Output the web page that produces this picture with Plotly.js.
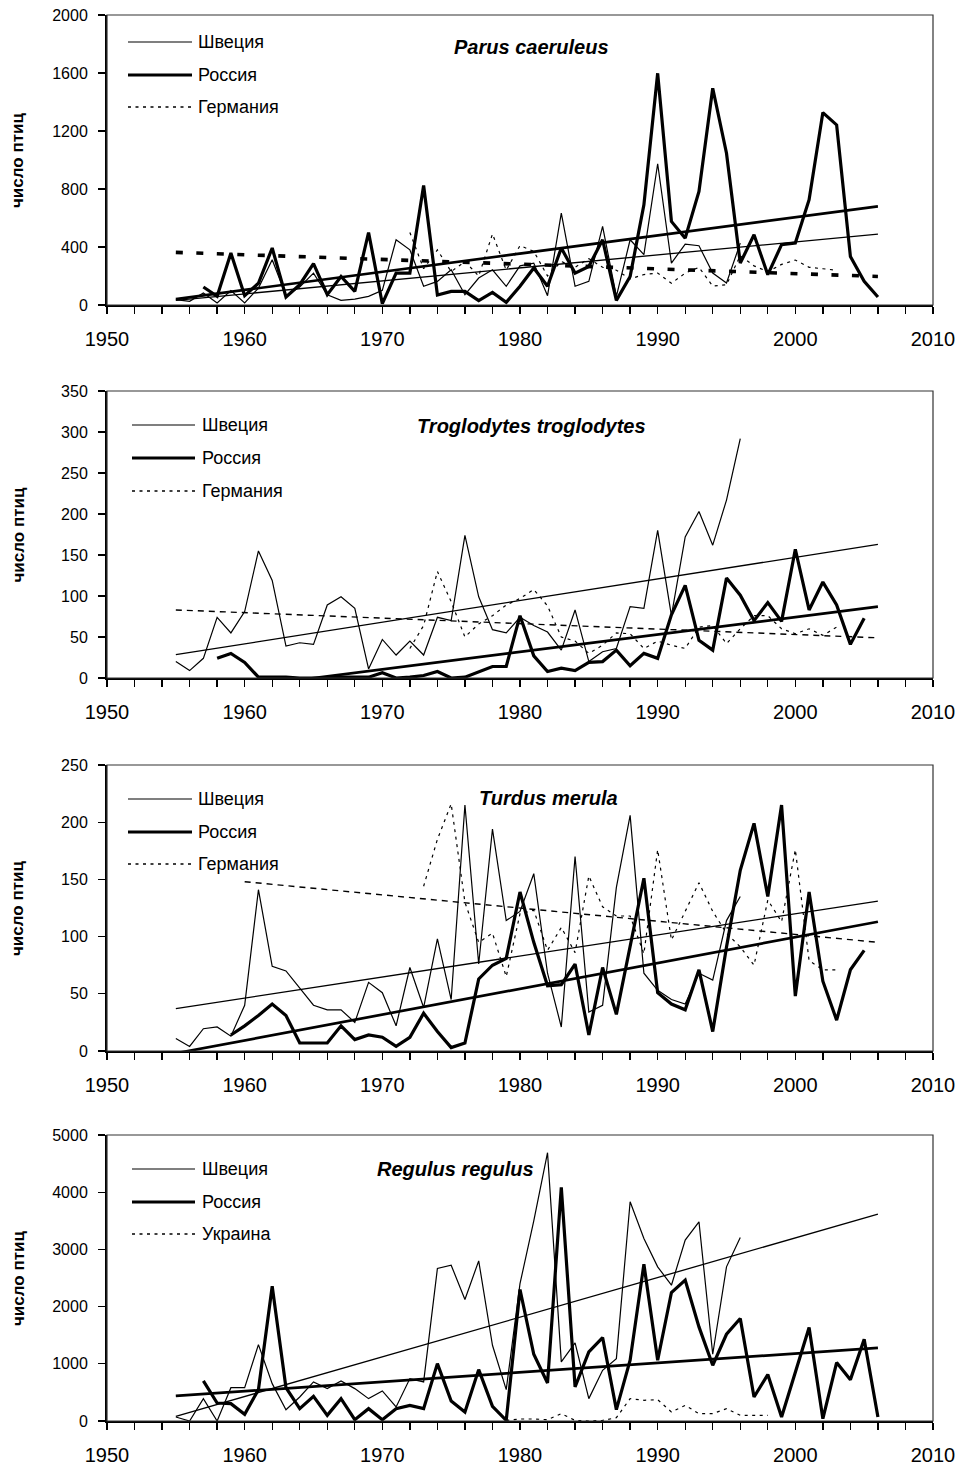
<!DOCTYPE html>
<html>
<head>
<meta charset="utf-8">
<script src="https://cdn.plot.ly/plotly-3.0.1.min.js"></script>
<style>
  html, body { margin: 0; padding: 0; background: #fff; }
  #chart { width: 961px; height: 1466px; }
</style>
</head>
<body>
<div id="chart"></div>
<script>
// ---------- Parus caeruleus ----------
const parusSwedenYears = [1955,1956,1957,1958,1959,1960,1961,1962,1963,1964,1965,1966,1967,1968,1969,1970,1971,1972,1973,1974,1975,1976,1977,1978,1979,1980,1981,1982,1983,1984,1985,1986,1987,1988,1989,1990,1991,1992,1993,1994,1995,1996];
const parusSweden = [37,25,83,14,99,14,117,312,64,124,220,71,32,41,60,101,450,381,129,163,243,71,186,243,129,270,289,64,634,129,163,542,60,450,347,974,289,420,409,220,152,427];
const parusRussiaYears = [1957,1958,1959,1960,1961,1962,1963,1964,1965,1966,1967,1968,1969,1970,1971,1972,1973,1974,1975,1976,1977,1978,1979,1980,1981,1982,1983,1984,1985,1986,1987,1988,1989,1990,1991,1992,1993,1994,1995,1996,1997,1998,1999,2000,2001,2002,2003,2004,2005,2006];
const parusRussia = [124,60,358,64,150,393,55,140,285,71,197,94,500,9,220,220,824,69,94,94,30,87,18,129,255,129,393,220,266,450,32,197,691,1598,576,461,783,1495,1047,289,484,209,416,427,726,1327,1242,335,163,55];
const parusGermanyYears = [1972,1973,1974,1975,1976,1977,1978,1979,1980,1981,1982,1983,1984,1985,1986,1987,1988,1989,1990,1991,1992,1993,1994,1995,1996,1997,1998,1999,2000,2001,2002,2003];
const parusGermany = [500,250,380,230,300,200,490,240,410,370,200,300,260,320,260,240,180,210,220,150,220,260,130,140,340,270,230,280,310,260,250,240];
const parusTrendYears = [1955, 2006];
const parusSwedenTrend = [32, 489];
const parusRussiaTrend = [41, 680];
const parusGermanyTrend = [363, 197];

// ---------- Troglodytes troglodytes ----------
const trogSwedenYears = parusSwedenYears;
const trogSweden = [20,9,24,74,55,81,155,119,39,43,41,89,99,85,11,47,28,45,28,74,70,174,99,59,55,74,64,56,34,83,20,32,36,87,85,180,76,172,203,162,217,292];
const trogRussiaYears = [1958,1959,1960,1961,1962,1963,1964,1965,1966,1967,1968,1969,1970,1971,1972,1973,1974,1975,1976,1977,1978,1979,1980,1981,1982,1983,1984,1985,1986,1987,1988,1989,1990,1991,1992,1993,1994,1995,1996,1997,1998,1999,2000,2001,2002,2003,2004,2005];
const trogRussia = [24,30,19,1,1,1,0,0,0,1,1,1,6.5,0,1,3,8,0,1,7,14,14,76,27,8,12,9,19,20,34,15,30,24,77,113,46,34,122,101,70,92,69,157,83,117,89,41,73];
const trogGermanyYears = parusGermanyYears;
const trogGermany = [36,64,130,93,50,66,76,89,97,108,88,50,45,30,40,55,54,36,45,40,36,62,64,42,60,76,76,60,54,60,52,62];
const trogSwedenTrendYears = [1955, 2006];
const trogSwedenTrend = [28.5, 163];
const trogRussiaTrendYears = [1958, 2006];
const trogRussiaTrend = [-15, 87];
const trogGermanyTrendYears = [1955, 2006];
const trogGermanyTrend = [83, 49];

// ---------- Turdus merula ----------
const turdSwedenYears = parusSwedenYears;
const turdSweden = [11,4,19.5,21,13,40,141,74,70,55,40,36,36,25,60,51,22,73,38,98,45,215,76,194,114,122,155,68,21,170,34,40,143,206,68,53,45,41,68,62,114,135];
const turdRussiaYears = [1959,1960,1961,1962,1963,1964,1965,1966,1967,1968,1969,1970,1971,1972,1973,1974,1975,1976,1977,1978,1979,1980,1981,1982,1983,1984,1985,1986,1987,1988,1989,1990,1991,1992,1993,1994,1995,1996,1997,1998,1999,2000,2001,2002,2003,2004,2005];
const turdRussia = [14,22,31,41,31,7,7,7,22,10,14,12,4,12,33,17,3,7,63,75,81,139,95,57,58,76,14,73,32,91,151,51,41,36,71,17,91,158,199,135,215,48,139,61,27,71,88];
const turdGermanyYears = [1973,1974,1975,1976,1977,1978,1979,1980,1981,1982,1983,1984,1985,1986,1987,1988,1989,1990,1991,1992,1993,1994,1995,1996,1997,1998,1999,2000,2001,2002,2003];
const turdGermany = [144,185,216,130,95,103,65,120,123,88,108,86,153,126,118,118,85,176,97,122,147,122,103,91,75,132,113,176,79,71,71];
const turdSwedenTrendYears = [1955, 2006];
const turdSwedenTrend = [37, 131];
const turdRussiaTrendYears = [1955, 2006];
const turdRussiaTrend = [-2, 113];
const turdGermanyTrendYears = [1960, 2006];
const turdGermanyTrend = [148, 95];

// ---------- Regulus regulus ----------
const regSwedenYears = parusSwedenYears;
const regSweden = [70,0,391,0,583,583,1336,653,198,420,683,566,700,566,391,525,245,741,683,2666,2724,2124,2800,1324,548,2400,3500,4690,1033,1365,391,887,1091,3833,3191,2695,2374,3162,3483,1167,2695,3209];
const regRussiaYears = parusRussiaYears;
const regRussia = [700,315,303,117,548,2357,583,216,432,99,391,23,216,23,216,274,216,1003,350,158,898,257,12,2299,1167,665,4084,595,1208,1459,198,1062,2742,1062,2246,2462,1645,974,1517,1791,420,811,70,846,1634,41,1021,723,1429,70];
const regUkraineYears = [1979,1980,1981,1982,1983,1984,1985,1986,1987,1988,1989,1990,1991,1992,1993,1994,1995,1996,1997,1998];
const regUkraine = [10,35,35,23,128,10,0,10,58,391,362,373,158,274,128,128,216,99,99,99];
const regTrendYears = [1955, 2006];
const regSwedenTrend = [82, 3617];
const regRussiaTrend = [438, 1278];

// Axis texts
const xTickVals = [1950, 1960, 1970, 1980, 1990, 2000, 2010];
const yTitle = 'число птиц';
const labelSweden = 'Швеция';
const labelRussia = 'Россия';
const labelGermany = 'Германия';
const labelUkraine = 'Украина';

// ---------- geometry (pixels of the page) ----------
const PL = 107, PR = 933, PT = 15, PB = 1421;
const px2x = p => (p - PL) / (PR - PL);
const px2y = p => (PB - p) / (PB - PT);

const FONT = 'Liberation Sans, Arial, Helvetica, sans-serif';

const thin = {color: '#000', width: 1.2};
const thick = {color: '#000', width: 3.2};
const dotted = {color: '#000', width: 1.2, dash: '3px,4.5px'};

const panels = [
  {
    top: 15, bottom: 305, range: [0, 2000], dtick: 400,
    title: 'Parus caeruleus', titleX: 452, titleY: 47,
    legend: {x0: 128, x1: 192, tx: 196, rows: [42, 75, 107]},
    names: [labelSweden, labelRussia, labelGermany],
    series: [
      {x: parusSwedenYears, y: parusSweden, line: thin},
      {x: parusRussiaYears, y: parusRussia, line: thick},
      {x: parusGermanyYears, y: parusGermany, line: dotted},
      {x: parusTrendYears, y: parusSwedenTrend, line: {color: '#000', width: 1.3}},
      {x: parusTrendYears, y: parusRussiaTrend, line: {color: '#000', width: 2.7}},
      {x: parusTrendYears, y: parusGermanyTrend, line: {color: '#000', width: 3.6, dash: '7px,13.5px'}}
    ]
  },
  {
    top: 391, bottom: 678, range: [0, 350], dtick: 50,
    title: 'Troglodytes troglodytes', titleX: 415, titleY: 426,
    legend: {x0: 132, x1: 195, tx: 200, rows: [425, 458, 491]},
    names: [labelSweden, labelRussia, labelGermany],
    series: [
      {x: trogSwedenYears, y: trogSweden, line: thin},
      {x: trogRussiaYears, y: trogRussia, line: thick},
      {x: trogGermanyYears, y: trogGermany, line: dotted},
      {x: trogSwedenTrendYears, y: trogSwedenTrend, line: {color: '#000', width: 1.3}},
      {x: trogRussiaTrendYears, y: trogRussiaTrend, line: {color: '#000', width: 2.7}},
      {x: trogGermanyTrendYears, y: trogGermanyTrend, line: {color: '#000', width: 1.4, dash: '6px,5px'}}
    ]
  },
  {
    top: 765, bottom: 1051, range: [0, 250], dtick: 50,
    title: 'Turdus merula', titleX: 477, titleY: 798,
    legend: {x0: 128, x1: 192, tx: 196, rows: [799, 832, 864]},
    names: [labelSweden, labelRussia, labelGermany],
    series: [
      {x: turdSwedenYears, y: turdSweden, line: thin},
      {x: turdRussiaYears, y: turdRussia, line: thick},
      {x: turdGermanyYears, y: turdGermany, line: dotted},
      {x: turdSwedenTrendYears, y: turdSwedenTrend, line: {color: '#000', width: 1.3}},
      {x: turdRussiaTrendYears, y: turdRussiaTrend, line: {color: '#000', width: 2.7}},
      {x: turdGermanyTrendYears, y: turdGermanyTrend, line: {color: '#000', width: 1.4, dash: '6px,5px'}}
    ]
  },
  {
    top: 1135, bottom: 1421, range: [0, 5000], dtick: 1000,
    title: 'Regulus regulus', titleX: 375, titleY: 1169,
    legend: {x0: 132, x1: 195, tx: 200, rows: [1169, 1202, 1234]},
    names: [labelSweden, labelRussia, labelUkraine],
    series: [
      {x: regSwedenYears, y: regSweden, line: thin},
      {x: regRussiaYears, y: regRussia, line: thick},
      {x: regUkraineYears, y: regUkraine, line: dotted},
      {x: regTrendYears, y: regSwedenTrend, line: {color: '#000', width: 1.3}},
      {x: regTrendYears, y: regRussiaTrend, line: {color: '#000', width: 2.7}}
    ]
  }
];

const traces = [];
const layout = {
  width: 961, height: 1466,
  margin: {l: PL, r: 961 - PR, t: PT, b: 1466 - PB, pad: 0},
  paper_bgcolor: '#fff', plot_bgcolor: '#fff',
  showlegend: false,
  font: {family: FONT, color: '#000'},
  shapes: [], annotations: []
};

const legendStyles = [thin, thick, {color: '#000', width: 1.3, dash: '3px,4.5px'}];

panels.forEach((p, i) => {
  const n = i + 1;
  const xa = 'x' + (n === 1 ? '' : n);
  const ya = 'y' + (n === 1 ? '' : n);
  p.series.forEach(s => {
    traces.push({
      type: 'scatter', mode: 'lines', x: s.x, y: s.y,
      xaxis: xa, yaxis: ya, line: s.line, hoverinfo: 'skip'
    });
  });
  const dom = [px2y(p.bottom), px2y(p.top)];
  layout['xaxis' + (n === 1 ? '' : n)] = {
    domain: [0, 1], anchor: ya, range: [1950, 2010],
    tickmode: 'array', tickvals: xTickVals, ticktext: xTickVals.map(String),
    ticks: 'outside', ticklen: 7, tickwidth: 1.3, tickcolor: '#000',
    minor: {dtick: 2, tick0: 1950, ticks: 'outside', ticklen: 7, tickwidth: 1.3, tickcolor: '#000', showgrid: false},
    showline: true, linewidth: 2, linecolor: '#000',
    showgrid: false, zeroline: false,
    tickfont: {family: FONT, size: 20, color: '#000'},
    ticklabelstandoff: 8
  };
  layout['yaxis' + (n === 1 ? '' : n)] = {
    domain: dom, anchor: xa, range: p.range, dtick: p.dtick, tick0: 0,
    ticks: 'outside', ticklen: 7, tickwidth: 1.3, tickcolor: '#000',
    showline: true, linewidth: 2, linecolor: '#000',
    showgrid: false, zeroline: false,
    tickfont: {family: FONT, size: 16, color: '#000'},
    ticklabelstandoff: 7
  };
  // frame around the plotting area
  layout.shapes.push({
    type: 'rect', xref: xa + ' domain', yref: ya + ' domain',
    x0: 0, x1: 1, y0: 0, y1: 1, line: {color: '#333', width: 1.2}, layer: 'above'
  });
  // legend keys
  p.legend.rows.forEach((ry, k) => {
    layout.shapes.push({
      type: 'line', xref: 'paper', yref: 'paper',
      x0: px2x(p.legend.x0), x1: px2x(p.legend.x1), y0: px2y(ry), y1: px2y(ry),
      line: legendStyles[k]
    });
    layout.annotations.push({
      xref: 'paper', yref: 'paper', x: px2x(p.legend.tx), y: px2y(ry),
      xanchor: 'left', yanchor: 'middle', showarrow: false,
      text: p.names[k], font: {family: FONT, size: 18, color: '#000'}
    });
  });
  // species name
  layout.annotations.push({
    xref: 'paper', yref: 'paper', x: px2x(p.titleX), y: px2y(p.titleY),
    xanchor: 'left', yanchor: 'middle', showarrow: false,
    text: '<b><i>' + p.title + '</i></b>', font: {family: FONT, size: 20, color: '#000'}
  });
  // y axis title
  layout.annotations.push({
    xref: 'paper', yref: 'paper', x: px2x(18), y: px2y((p.top + p.bottom) / 2),
    xanchor: 'center', yanchor: 'middle', showarrow: false, textangle: -90,
    text: '<b>' + yTitle + '</b>', font: {family: FONT, size: 17, color: '#000'}
  });
});

Plotly.newPlot('chart', traces, layout, {staticPlot: true, displayModeBar: false});
</script>
</body>
</html>
